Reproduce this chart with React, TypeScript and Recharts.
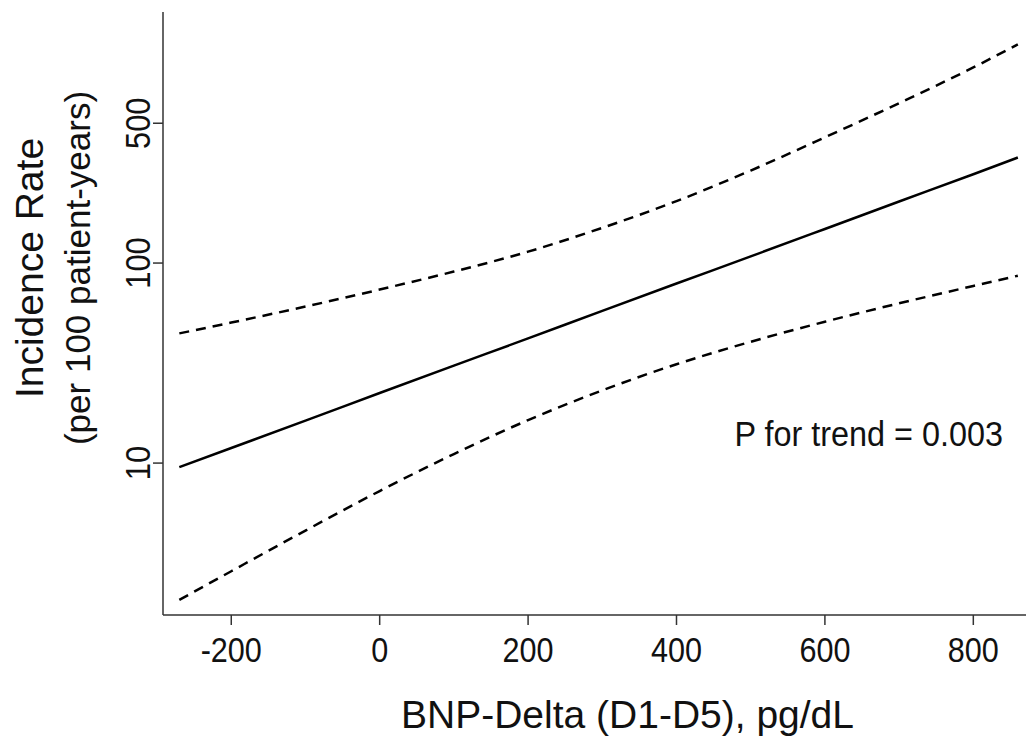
import { LineChart, Line, XAxis, YAxis, Customized } from "recharts";

// values (incidence per 100 patient-years, log scale)
const bnpDelta = [-270, -200, -100, 0, 100, 200, 300, 400, 500, 600, 700, 800, 860];
const estimate = [9.55, 11.9, 16.3, 22.4, 30.7, 42, 57.7, 79, 108, 148, 203, 278, 337];
const upperCI = [44.5, 50.4, 60.6, 73.7, 90.7, 114, 150, 204, 290, 425, 630, 950, 1240];
const lowerCI = [2.07, 2.88, 4.6, 7.25, 11.1, 16.4, 23.1, 31.2, 40.4, 50.9, 62.9, 76.8, 86.4];

const xTicks = [-200, 0, 200, 400, 600, 800];
const yTicks = [10, 100, 500];

const data = bnpDelta.map((x, i) => ({
  x,
  est: estimate[i],
  upper: upperCI[i],
  lower: lowerCI[i],
}));

const font = "'Liberation Sans', Arial, sans-serif";
const axisColor = "#333";
const textColor = "#111";

// the reference uses a slightly condensed sans, so squeeze glyphs horizontally
function XTick(props: any) {
  const { x, y, payload } = props;
  return (
    <g transform={`translate(${x},${y})`}>
      <text
        transform="scale(0.85,1)"
        textAnchor="middle"
        dy="0.71em"
        fontSize={36}
        fontFamily={font}
        fill={textColor}
      >
        {payload.value}
      </text>
    </g>
  );
}

function YTick(props: any) {
  const { y, payload } = props;
  return (
    <g transform={`translate(150,${y}) rotate(-90)`}>
      <text
        transform="scale(0.88,1)"
        textAnchor="middle"
        fontSize={35}
        fontFamily={font}
        fill={textColor}
      >
        {payload.value}
      </text>
    </g>
  );
}

function Annotations() {
  return (
    <g fontFamily={font} fill={textColor}>
      <text x={43} y={268} transform="rotate(-90 43 268)" textAnchor="middle" fontSize={39}>
        Incidence Rate
      </text>
      <text x={90} y={268} transform="rotate(-90 90 268)" textAnchor="middle" fontSize={35}>
        (per 100 patient-years)
      </text>
      <g transform="translate(1003,446)">
        <text transform="scale(0.9,1)" textAnchor="end" fontSize={36}>
          P for trend = 0.003
        </text>
      </g>
    </g>
  );
}

export default function App() {
  return (
    <div style={{ position: "absolute", left: 0, top: 0, background: "#fff" }}>
      <LineChart
        width={1026}
        height={742}
        data={data}
        margin={{ top: 12, right: 0, bottom: 0, left: 0 }}
      >
        <XAxis
          dataKey="x"
          type="number"
          domain={[-292, 871]}
          ticks={xTicks}
          allowDataOverflow
          height={127}
          tickSize={10}
          tickMargin={11}
          axisLine={{ stroke: axisColor, strokeWidth: 1.5 }}
          tickLine={{ stroke: axisColor, strokeWidth: 1.5 }}
          tick={<XTick />}
          label={{
            value: "BNP-Delta (D1-D5), pg/dL",
            position: "insideBottom",
            offset: 14,
            dx: 33,
            fontSize: 39,
            fontFamily: font,
            fill: textColor,
          }}
        />
        <YAxis
          scale="log"
          domain={[1.74, 1799]}
          ticks={yTicks}
          allowDataOverflow
          width={163}
          tickSize={10}
          axisLine={{ stroke: axisColor, strokeWidth: 1.5 }}
          tickLine={{ stroke: axisColor, strokeWidth: 1.5 }}
          tick={<YTick />}
        />
        <Line
          type="monotone"
          dataKey="upper"
          stroke="#000"
          strokeWidth={2.5}
          strokeDasharray="10 7"
          dot={false}
          isAnimationActive={false}
        />
        <Line
          type="monotone"
          dataKey="est"
          stroke="#000"
          strokeWidth={2.5}
          dot={false}
          isAnimationActive={false}
        />
        <Line
          type="monotone"
          dataKey="lower"
          stroke="#000"
          strokeWidth={2.5}
          strokeDasharray="10 7"
          dot={false}
          isAnimationActive={false}
        />
        <Customized component={Annotations} />
      </LineChart>
    </div>
  );
}
